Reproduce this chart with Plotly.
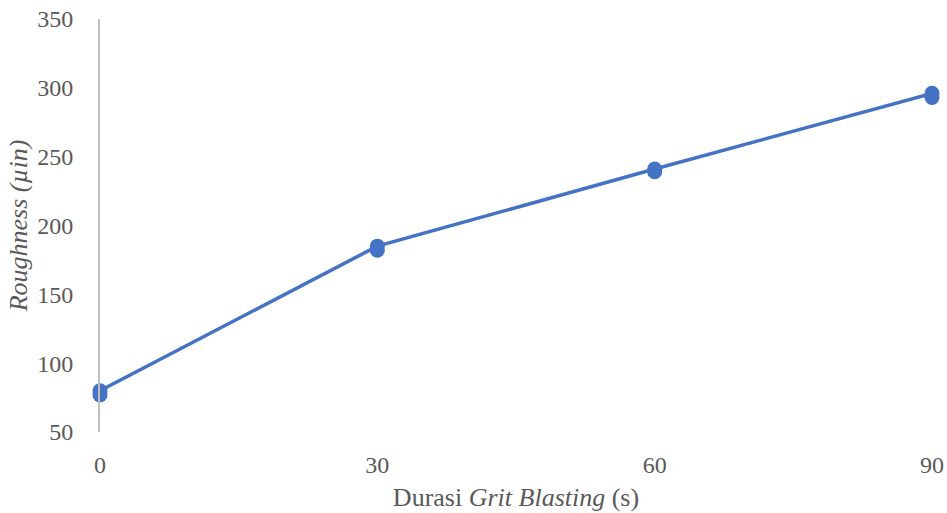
import plotly.graph_objects as go

durations = [0, 30, 60, 90]
roughness_a = [80, 185, 241, 296]
roughness_b = [77, 182, 239, 293]
x_ticks = [0, 30, 60, 90]
y_ticks = [50, 100, 150, 200, 250, 300, 350]

blue = "#4472C4"
font_family = "Liberation Serif, Times New Roman, serif"

fig = go.Figure()
fig.add_trace(go.Scatter(x=durations, y=roughness_b, mode="markers",
                         marker=dict(size=15, color=blue), cliponaxis=False,
                         showlegend=False))
fig.add_trace(go.Scatter(x=durations, y=roughness_a, mode="lines+markers",
                         line=dict(color=blue, width=3.5),
                         marker=dict(size=15, color=blue), cliponaxis=False,
                         showlegend=False))

fig.update_layout(
    width=947, height=513,
    margin=dict(l=100, r=15, t=19, b=81),
    plot_bgcolor="white", paper_bgcolor="white",
    font=dict(family=font_family, size=24, color="#595959"),
    xaxis=dict(range=[0, 90], tickvals=x_ticks, showgrid=False, zeroline=False,
               showline=False, ticks="", ticklabelstandoff=16, automargin=False,
               ticklabeloverflow="allow",
               title=dict(text="Durasi <i>Grit Blasting</i> (s)", font=dict(size=26), standoff=10)),
    yaxis=dict(range=[50, 350], tickvals=y_ticks, showgrid=False, zeroline=False,
               showline=True, linecolor="#BFBFBF", linewidth=2, ticks="",
               ticklabelstandoff=20, automargin=False, ticklabeloverflow="allow",
               title=dict(text="<i>Roughness (µin)</i>", font=dict(size=26), standoff=2)),
)

fig.write_html("out.html", config={"displayModeBar": False},
               post_script="document.body.style.margin='0';document.body.style.overflow='hidden';")
